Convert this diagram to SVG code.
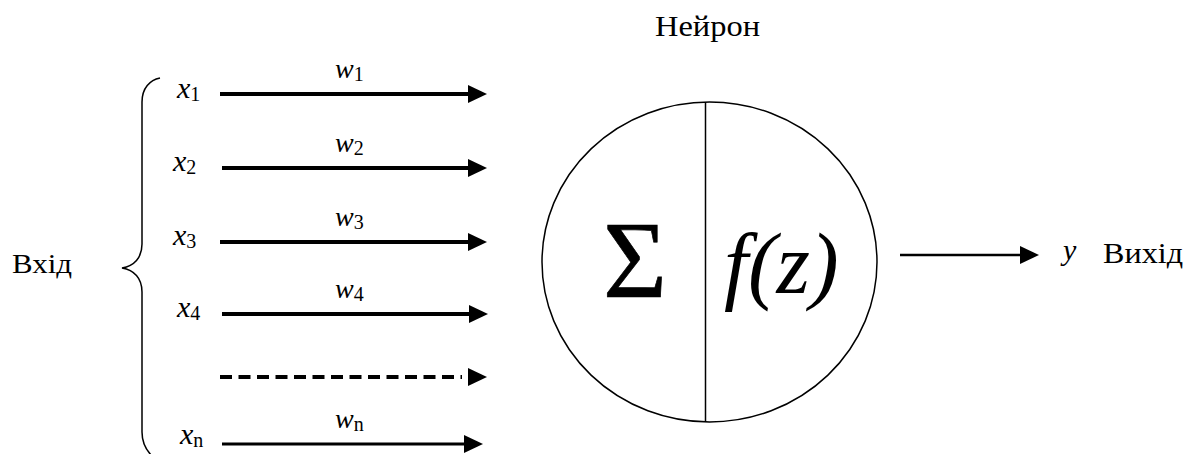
<svg xmlns="http://www.w3.org/2000/svg" width="1195" height="454" viewBox="0 0 1195 454">
  <style>
    .t { font-family: "Liberation Serif", "Times New Roman", serif; fill: #000; }
    .i { font-style: italic; }
    .sub { font-size: 20px; font-style: normal; }
    .arr { stroke: #000; fill: none; }
  </style>
  <defs>
    <marker id="ah" markerUnits="userSpaceOnUse" markerWidth="20" markerHeight="20" refX="4" refY="9" orient="auto">
      <path d="M0,0 L19,9 L0,18 Z" fill="#000"/>
    </marker>
    <marker id="ahGap" markerUnits="userSpaceOnUse" markerWidth="30" markerHeight="20" refX="-6" refY="9" orient="auto" overflow="visible">
      <path d="M0,0 L19,9 L0,18 Z" fill="#000"/>
    </marker>
  </defs>
  <rect width="1195" height="454" fill="#fff"/>

  <g id="title">
    <text class="t" x="655" y="36" font-size="30" textLength="105" lengthAdjust="spacingAndGlyphs">Нейрон</text>
  </g>

  <g id="input">
    <path d="M160,78 C150,80 142,88 142,102 L142,244 C142,258 134,266 122,268 C134,270 142,278 142,292 L142,432 C142,444 148,452 152,456" fill="none" stroke="#000" stroke-width="1.5"/>
    <text class="t" x="12" y="273" font-size="28" textLength="60" lengthAdjust="spacingAndGlyphs">Вхід</text>
  </g>

  <g id="x-labels">
    <text class="t i" x="177" y="98" font-size="30">x<tspan class="sub" dy="3">1</tspan></text>
    <text class="t i" x="173" y="171" font-size="30">x<tspan class="sub" dy="3">2</tspan></text>
    <text class="t i" x="173" y="245" font-size="30">x<tspan class="sub" dy="3">3</tspan></text>
    <text class="t i" x="177" y="317" font-size="30">x<tspan class="sub" dy="3">4</tspan></text>
    <text class="t i" x="180" y="444" font-size="30">x<tspan class="sub" dy="3">n</tspan></text>
  </g>

  <g id="w-labels">
    <text class="t i" x="335" y="78" font-size="28">w<tspan class="sub" dy="3">1</tspan></text>
    <text class="t i" x="335" y="152" font-size="28">w<tspan class="sub" dy="3">2</tspan></text>
    <text class="t i" x="335" y="226" font-size="28">w<tspan class="sub" dy="3">3</tspan></text>
    <text class="t i" x="335" y="298" font-size="28">w<tspan class="sub" dy="3">4</tspan></text>
    <text class="t i" x="335" y="428" font-size="28">w<tspan class="sub" dy="3">n</tspan></text>
  </g>

  <g id="connectors">
    <line class="arr" x1="220" y1="94" x2="472" y2="94" stroke-width="4" marker-end="url(#ah)"/>
    <line class="arr" x1="222" y1="168" x2="472" y2="168" stroke-width="4" marker-end="url(#ah)"/>
    <line class="arr" x1="220" y1="242" x2="472" y2="242" stroke-width="4" marker-end="url(#ah)"/>
    <line class="arr" x1="222" y1="314" x2="473" y2="314" stroke-width="4" marker-end="url(#ah)"/>
    <line class="arr" x1="220" y1="377" x2="462" y2="377" stroke-width="4" stroke-dasharray="12 6.5" marker-end="url(#ahGap)"/>
    <line class="arr" x1="222" y1="444" x2="468" y2="444" stroke-width="3" marker-end="url(#ah)"/>
    <line class="arr" x1="900" y1="255" x2="1024" y2="255" stroke-width="2.5" marker-end="url(#ah)"/>
  </g>

  <g id="neuron">
    <ellipse cx="709.5" cy="262" rx="167.5" ry="160" fill="none" stroke="#000" stroke-width="1.5"/>
    <line x1="705.5" y1="102" x2="705.5" y2="422" stroke="#000" stroke-width="1.5"/>
    <text class="t" x="603" y="297" font-size="110" stroke="#000" stroke-width="0.7">Σ</text>
    <text class="t i" x="724" y="293" font-size="86">f(z)</text>
  </g>

  <g id="output">
    <text class="t i" x="1063" y="260" font-size="30">y</text>
    <text class="t" x="1103" y="263" font-size="29" textLength="80" lengthAdjust="spacingAndGlyphs">Вихід</text>
  </g>
</svg>
